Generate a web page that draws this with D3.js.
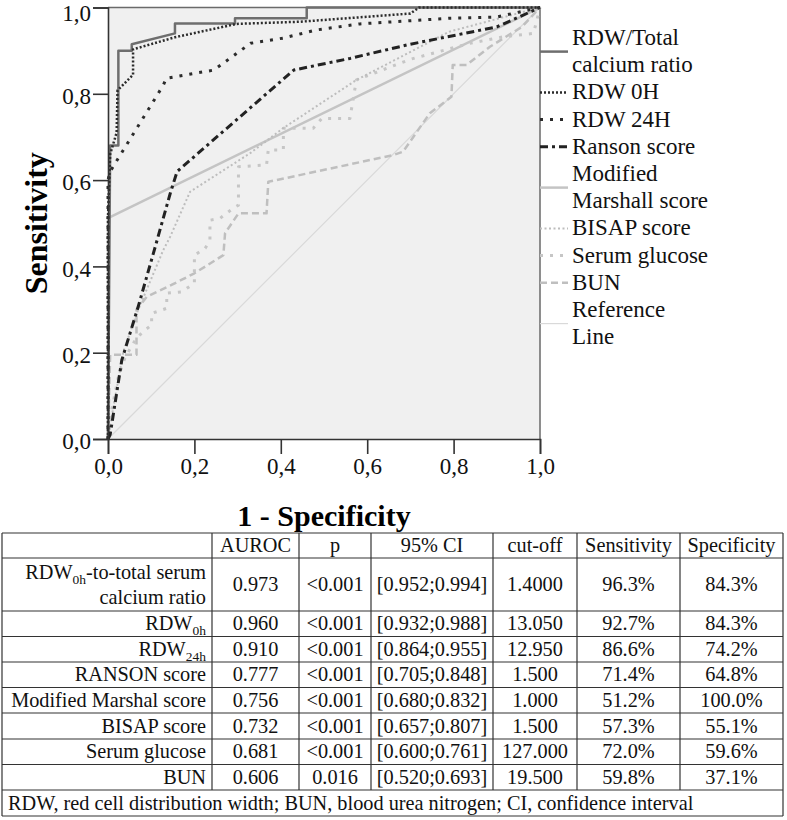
<!DOCTYPE html>
<html>
<head>
<meta charset="utf-8">
<script src="https://cdn.jsdelivr.net/npm/d3@7"></script>
<style>
  body { margin: 0; background: #fff; }
  svg { display: block; font-family: "Liberation Serif", "Times New Roman", serif; }
</style>
</head>
<body>
<svg id="chart" width="787" height="820"></svg>
<script>
// ROC curves, [1 - specificity, sensitivity]
const rdwCalcium = [[0,0],[0.005,0.68],[0.024,0.68],[0.024,0.90],[0.055,0.90],[0.055,0.915],[0.155,0.94],[0.155,0.963],[0.294,0.963],[0.294,0.975],[0.46,0.975],[0.46,1],[1,1]];
const rdw0h = [[0,0],[0,0.515],[0.005,0.66],[0.02,0.71],[0.022,0.808],[0.058,0.844],[0.058,0.903],[0.155,0.931],[0.298,0.962],[0.444,0.967],[0.70,0.986],[0.72,1],[1,1]];
const rdw24h = [[0,0],[0,0.60],[0.005,0.62],[0.128,0.82],[0.135,0.836],[0.245,0.855],[0.33,0.917],[0.405,0.929],[0.483,0.948],[0.583,0.962],[0.79,0.975],[0.9,0.978],[1,1]];
const ranson = [[0,0],[0.005,0.01],[0.032,0.183],[0.07,0.307],[0.105,0.43],[0.144,0.569],[0.16,0.62],[0.43,0.855],[0.56,0.882],[0.70,0.915],[0.90,0.955],[1,1]];
const marshall = [[0,0],[0,0.512],[1,1]];
const bisap = [[0,0],[0.01,0.06],[0.035,0.2],[0.066,0.29],[0.128,0.438],[0.144,0.469],[0.19,0.573],[0.33,0.663],[0.405,0.72],[0.575,0.832],[0.79,0.944],[1,1]];
const glucose = [[0,0],[0.005,0.05],[0.024,0.144],[0.04,0.19],[0.066,0.234],[0.086,0.253],[0.101,0.264],[0.101,0.291],[0.136,0.303],[0.136,0.338],[0.17,0.341],[0.2,0.361],[0.2,0.426],[0.225,0.442],[0.236,0.461],[0.236,0.507],[0.259,0.511],[0.29,0.535],[0.302,0.542],[0.302,0.631],[0.367,0.635],[0.371,0.67],[0.406,0.67],[0.406,0.72],[0.475,0.72],[0.495,0.743],[0.56,0.743],[0.575,0.832],[0.70,0.88],[0.838,0.917],[0.915,0.932],[0.985,0.94],[1,1]];
const bun = [[0,0],[0.005,0.195],[0.066,0.195],[0.066,0.30],[0.09,0.33],[0.147,0.357],[0.2,0.384],[0.267,0.426],[0.271,0.477],[0.302,0.523],[0.367,0.523],[0.371,0.596],[0.66,0.658],[0.683,0.666],[0.745,0.755],[0.795,0.793],[0.798,0.867],[0.83,0.867],[0.884,0.909],[0.958,0.955],[1,1]];
const reference = [[0,0],[1,1]];

const ticks = [0, 0.2, 0.4, 0.6, 0.8, 1.0];

// table
const tableHeader = ["", "AUROC", "p", "95% CI", "cut-off", "Sensitivity", "Specificity"];
const rowNames = ["RDW0h-to-total serum calcium ratio", "RDW0h", "RDW24h", "RANSON score", "Modified Marshal score", "BISAP score", "Serum glucose", "BUN"];
const auroc = ["0.973", "0.960", "0.910", "0.777", "0.756", "0.732", "0.681", "0.606"];
const pValues = ["<0.001", "<0.001", "<0.001", "<0.001", "<0.001", "<0.001", "<0.001", "0.016"];
const ci = ["[0.952;0.994]", "[0.932;0.988]", "[0.864;0.955]", "[0.705;0.848]", "[0.680;0.832]", "[0.657;0.807]", "[0.600;0.761]", "[0.520;0.693]"];
const cutoff = ["1.4000", "13.050", "12.950", "1.500", "1.000", "1.500", "127.000", "19.500"];
const sens = ["96.3%", "92.7%", "86.6%", "71.4%", "51.2%", "57.3%", "72.0%", "59.8%"];
const spec = ["84.3%", "84.3%", "74.2%", "64.8%", "100.0%", "55.1%", "59.6%", "37.1%"];
const footnote = "RDW, red cell distribution width; BUN, blood urea nitrogen; CI, confidence interval";

// series: legend order, "order" = drawing order
const series = [
  { name: ["RDW/Total", "calcium ratio"], data: rdwCalcium, color: "#6e6e6e", width: 2.5, dash: null, order: 5 },
  { name: ["RDW 0H"], data: rdw0h, color: "#2b2b2b", width: 2.5, dash: "2,2", order: 8 },
  { name: ["RDW 24H"], data: rdw24h, color: "#2b2b2b", width: 3, dash: "3,7", order: 7 },
  { name: ["Ranson score"], data: ranson, color: "#222", width: 3, dash: "8,4,3,4", order: 6 },
  { name: ["Modified", "Marshall score"], data: marshall, color: "#c4c4c4", width: 2.5, dash: null, order: 1 },
  { name: ["BISAP score"], data: bisap, color: "#bdbdbd", width: 2, dash: "2,2.5", order: 4 },
  { name: ["Serum glucose"], data: glucose, color: "#c6c6c6", width: 3, dash: "3,7", order: 3 },
  { name: ["BUN"], data: bun, color: "#bfbfbf", width: 2.5, dash: "7,4", order: 2 },
  { name: ["Reference", "Line"], data: reference, color: "#d9d9d9", width: 1.2, dash: null, order: 0 }
];

const svg = d3.select("#chart");
const x = d3.scaleLinear().domain([0, 1]).range([108, 540]);
const y = d3.scaleLinear().domain([0, 1]).range([439, 7.5]);
const fmt = d => d3.format(".1f")(d).replace(".", ",");

// plot background + frame
svg.append("rect")
  .attr("x", x(0)).attr("y", y(1))
  .attr("width", x(1) - x(0)).attr("height", y(0) - y(1))
  .attr("fill", "#f0f0f0");
svg.append("path")
  .attr("d", `M${x(0)},${y(1)}H${x(1)}V${y(0)}`)
  .attr("fill", "none").attr("stroke", "#6a6a6a").attr("stroke-width", 1.5);

// curves
const line = d3.line().x(d => x(d[0])).y(d => y(d[1]));
svg.append("g").selectAll("path")
  .data(series.slice().sort((a, b) => a.order - b.order))
  .enter().append("path")
  .attr("d", d => line(d.data))
  .attr("fill", "none")
  .attr("stroke", d => d.color)
  .attr("stroke-width", d => d.width)
  .attr("stroke-dasharray", d => d.dash)
  .attr("stroke-linejoin", "round");

// axes
const xAxis = svg.append("g")
  .attr("transform", `translate(0,${y(0)})`)
  .call(d3.axisBottom(x).tickValues(ticks).tickSize(15).tickPadding(4).tickFormat(fmt));
const yAxis = svg.append("g")
  .attr("transform", `translate(${x(0)},0)`)
  .call(d3.axisLeft(y).tickValues(ticks).tickSize(15).tickPadding(2).tickFormat(fmt));
[xAxis, yAxis].forEach(g => {
  g.select(".domain").attr("stroke", "#333").attr("stroke-width", 1.6);
  g.selectAll(".tick line").attr("stroke", "#333").attr("stroke-width", 1.6);
  g.selectAll(".tick text")
    .attr("font-family", "Liberation Serif").attr("font-size", 23).attr("fill", "#111");
});
// labels sit a little below their ticks; the top one is pushed in a bit more
yAxis.selectAll(".tick text").attr("dy", d => d === 1 ? "0.55em" : "0.42em");

svg.append("text")
  .attr("x", (x(0) + x(1)) / 2).attr("y", 526)
  .attr("text-anchor", "middle")
  .attr("font-size", 30).attr("font-weight", "bold")
  .text("1 - Specificity");
svg.append("text")
  .attr("transform", `translate(47,${(y(0) + y(1)) / 2}) rotate(-90)`)
  .attr("text-anchor", "middle")
  .attr("font-size", 32).attr("font-weight", "bold")
  .text("Sensitivity");

// legend
const legend = svg.append("g");
let lineNo = 0;
const step = 27.2, first = 37;
series.forEach(s => {
  const top = first + lineNo * step;
  const mid = top + (s.name.length - 1) * step / 2;
  legend.append("line")
    .attr("x1", x(1)).attr("x2", x(1) + 28)
    .attr("y1", mid + 1).attr("y2", mid + 1)
    .attr("stroke", s.color).attr("stroke-width", s.width)
    .attr("stroke-dasharray", s.dash);
  s.name.forEach((t, i) => {
    legend.append("text")
      .attr("x", x(1) + 32).attr("y", top + i * step + 8)
      .attr("font-size", 23).attr("fill", "#111")
      .text(t);
  });
  lineNo += s.name.length;
});

// table
const colX = [2, 212, 299, 371, 493, 577, 680, 783];
const rowY = [533, 558, 611, 636.5, 662, 687.5, 713, 739, 764.5, 790, 816];
const table = svg.append("g").attr("font-size", 20.3).attr("fill", "#111");
const border = { stroke: "#333", "stroke-width": 1.2 };
rowY.forEach(yy => {
  const l = table.append("line").attr("x1", colX[0]).attr("x2", colX[7]).attr("y1", yy).attr("y2", yy);
  Object.entries(border).forEach(([k, v]) => l.attr(k, v));
});
colX.forEach((xx, i) => {
  const bottom = (i === 0 || i === colX.length - 1) ? rowY[rowY.length - 1] : rowY[rowY.length - 2];
  const l = table.append("line").attr("x1", xx).attr("x2", xx).attr("y1", rowY[0]).attr("y2", bottom);
  Object.entries(border).forEach(([k, v]) => l.attr(k, v));
});
const cellMid = i => (colX[i] + colX[i + 1]) / 2;
const rowMid = r => (rowY[r] + rowY[r + 1]) / 2;

tableHeader.forEach((h, i) => {
  table.append("text").attr("x", cellMid(i)).attr("y", rowMid(0) + 6.5)
    .attr("text-anchor", "middle").text(h);
});

function subLabel(txt, xx, yy) {
  // "RDW0h..." / "RDW24h" -> subscript after RDW
  const m = txt.match(/^RDW(0h|24h)(.*)$/);
  const t = table.append("text").attr("x", xx).attr("y", yy).attr("text-anchor", "end");
  if (m) {
    t.append("tspan").text("RDW");
    t.append("tspan").attr("font-size", 13.5).attr("dy", 5).text(m[1]);
    t.append("tspan").attr("dy", -5).text(m[2]);
  } else {
    t.text(txt);
  }
}

const cols = [auroc, pValues, ci, cutoff, sens, spec];
rowNames.forEach((name, r) => {
  const cy = rowMid(r + 1) + 6.5;
  if (r === 0) {
    subLabel("RDW0h-to-total serum", colX[1] - 6, rowY[1] + 21);
    table.append("text").attr("x", colX[1] - 6).attr("y", rowY[1] + 46)
      .attr("text-anchor", "end").text("calcium ratio");
  } else {
    subLabel(name, colX[1] - 6, cy);
  }
  cols.forEach((c, i) => {
    table.append("text").attr("x", cellMid(i + 1)).attr("y", cy)
      .attr("text-anchor", "middle").text(c[r]);
  });
});
table.append("text").attr("x", colX[0] + 6).attr("y", rowMid(9) + 6.5).text(footnote);
</script>
</body>
</html>
